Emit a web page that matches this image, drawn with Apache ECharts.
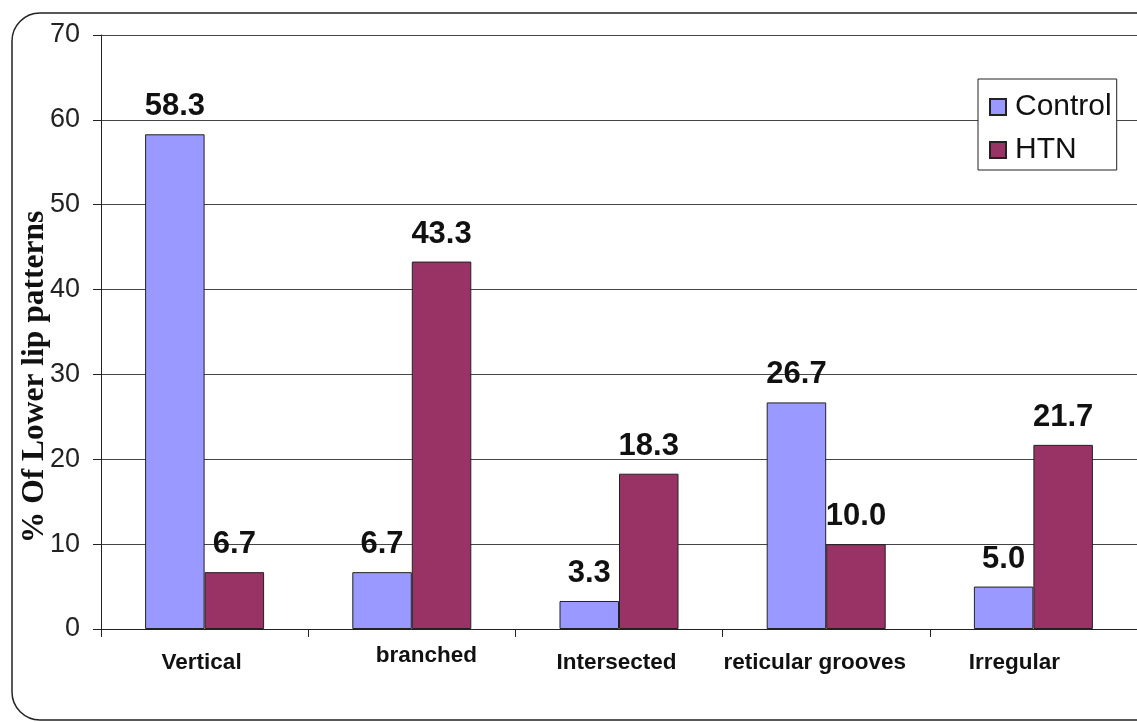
<!DOCTYPE html>
<html>
<head>
<meta charset="utf-8">
<script src="https://cdn.jsdelivr.net/npm/echarts@6/dist/echarts.min.js"></script>
<style>
html,body{margin:0;padding:0;background:#fff;}
#chart{width:1137px;height:722px;}
</style>
</head>
<body>
<div id="chart"></div>
<script>
const categories = ['Vertical', 'branched', 'Intersected', 'reticular grooves', 'Irregular'];
const controlValues = [58.3, 6.7, 3.3, 26.7, 5.0];
const htnValues = [6.7, 43.3, 18.3, 10.0, 21.7];
const seriesNames = ['Control', 'HTN'];
const yAxisTitle = '% Of Lower lip patterns';

// per-category label nudges (text placement quirks of the original)
const labelPadding = [
  [7, 6, 0, 0],
  [0, 0, 0, 29],
  [7, 5, 0, 0],
  [7, 23, 0, 0],
  [7, 38, 0, 0]
];

const chart = echarts.init(document.getElementById('chart'));
chart.setOption({
  animation: false,
  backgroundColor: '#fff',
  graphic: [{
    type: 'rect',
    shape: { x: 12, y: 13, width: 1160, height: 707, r: 28 },
    style: { fill: 'none', stroke: '#222', lineWidth: 1.5 },
    z: -1
  }],
  grid: { left: 101, top: 35, width: 1040, height: 594, containLabel: false },
  legend: {
    orient: 'vertical',
    left: 978,
    top: 79,
    padding: [13, 5, 5, 11],
    itemGap: 13,
    itemWidth: 16,
    itemHeight: 16,
    icon: 'rect',
    backgroundColor: '#fff',
    borderColor: '#222',
    borderWidth: 1,
    textStyle: { fontFamily: 'Liberation Sans, Arial, sans-serif', fontSize: 30, color: '#111', padding: [0, 0, 0, 4] },
    data: seriesNames
  },
  xAxis: {
    type: 'category',
    data: categories.map((c, i) => ({ value: c, textStyle: { padding: labelPadding[i] } })),
    boundaryGap: true,
    axisLine: { lineStyle: { color: '#222', width: 1 } },
    axisTick: { show: true, length: 8, lineStyle: { color: '#222' } },
    axisLabel: {
      margin: 15,
      fontFamily: 'Liberation Sans, Arial, sans-serif',
      fontWeight: 'bold',
      fontSize: 22.5,
      color: '#111',
      interval: 0
    },
    splitLine: { show: false }
  },
  yAxis: {
    type: 'value',
    min: 0,
    max: 70,
    interval: 10,
    name: yAxisTitle,
    nameLocation: 'middle',
    nameGap: 50,
    nameMoveOverlap: false,
    nameRotate: 90,
    nameTextStyle: {
      fontFamily: 'Liberation Serif, Times New Roman, serif',
      fontWeight: 'bold',
      fontSize: 31.5,
      color: '#111',
      padding: [0, 90, 0, 0]
    },
    axisLine: { show: true, lineStyle: { color: '#222', width: 1 } },
    axisTick: { show: true, length: 8, lineStyle: { color: '#222' } },
    axisLabel: {
      margin: 21,
      fontFamily: 'Liberation Sans, Arial, sans-serif',
      fontSize: 27,
      color: '#222'
    },
    splitLine: { show: true, lineStyle: { color: '#444', width: 1 } }
  },
  series: [
    {
      name: seriesNames[0],
      type: 'bar',
      data: controlValues,
      barWidth: 59.5,
      barGap: '0%',
      itemStyle: { color: '#9999FF', borderColor: '#222', borderWidth: 1 },
      label: {
        show: true, position: 'top', distance: 12,
        formatter: p => p.value.toFixed(1),
        fontFamily: 'Liberation Sans, Arial, sans-serif', fontWeight: 'bold', fontSize: 31, color: '#111'
      }
    },
    {
      name: seriesNames[1],
      type: 'bar',
      data: htnValues,
      barWidth: 59.5,
      barGap: '0%',
      itemStyle: { color: '#993366', borderColor: '#222', borderWidth: 1 },
      label: {
        show: true, position: 'top', distance: 12,
        formatter: p => p.value.toFixed(1),
        fontFamily: 'Liberation Sans, Arial, sans-serif', fontWeight: 'bold', fontSize: 31, color: '#111'
      }
    }
  ]
});
</script>
</body>
</html>
